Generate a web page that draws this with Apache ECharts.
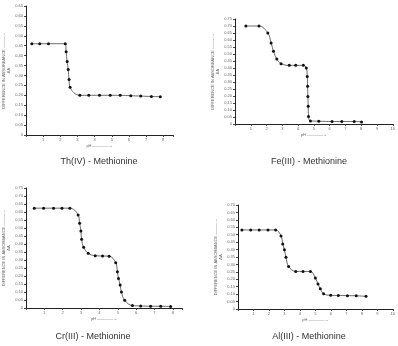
<!DOCTYPE html>
<html>
<head>
<meta charset="utf-8">
<script src="https://cdn.jsdelivr.net/npm/echarts@6/dist/echarts.min.js"></script>
<style>
  html, body { margin: 0; padding: 0; background: #fff; }
  #chart { width: 398px; height: 346px; }
</style>
</head>
<body>
<div id="chart"></div>
<script>
// pH values and difference in absorbance
const thPH = [0.34, 0.8, 1.31, 2.29, 2.34, 2.4, 2.46, 2.51, 2.57, 3.14, 3.66, 4.29, 4.91, 5.49, 6.11, 6.69, 7.31, 7.83];
const thDA = [0.46, 0.46, 0.46, 0.46, 0.42, 0.37, 0.33, 0.28, 0.24, 0.20, 0.20, 0.20, 0.20, 0.20, 0.198, 0.196, 0.194, 0.193];

const fePH = [0.69, 1.52, 2.08, 2.29, 2.44, 2.65, 2.92, 3.44, 3.85, 4.33, 4.52, 4.58, 4.6, 4.62, 4.64, 4.66, 4.78, 5.31, 6.15, 6.77, 7.56, 8.02];
const feDA = [0.70, 0.70, 0.65, 0.579, 0.519, 0.464, 0.431, 0.419, 0.419, 0.419, 0.40, 0.34, 0.269, 0.197, 0.126, 0.054, 0.022, 0.02, 0.018, 0.018, 0.018, 0.015];

const crPH = [0.45, 0.96, 1.5, 1.96, 2.39, 2.84, 2.92, 2.99, 3.03, 3.14, 3.39, 3.77, 4.17, 4.53, 4.89, 4.98, 5.04, 5.13, 5.2, 5.38, 5.8, 6.25, 6.79, 7.34, 7.88];
const crDA = [0.624, 0.624, 0.624, 0.624, 0.624, 0.582, 0.53, 0.482, 0.43, 0.379, 0.342, 0.327, 0.325, 0.324, 0.283, 0.226, 0.185, 0.143, 0.10, 0.048, 0.015, 0.013, 0.011, 0.011, 0.009];

const alPH = [0.25, 0.82, 1.37, 1.94, 2.43, 2.78, 2.89, 3.0, 3.1, 3.27, 3.73, 4.2, 4.68, 5.0, 5.17, 5.32, 5.53, 5.99, 6.48, 7.07, 7.64, 8.27];
const alDA = [0.532, 0.532, 0.532, 0.532, 0.532, 0.492, 0.438, 0.398, 0.349, 0.286, 0.253, 0.253, 0.253, 0.208, 0.168, 0.136, 0.103, 0.092, 0.091, 0.09, 0.089, 0.085];

const titles = ["Th(IV) - Methionine", "Fe(III) - Methionine", "Cr(III) - Methionine", "Al(III) - Methionine"];
const yMax = [0.65, 0.75, 0.75, 0.70];
const xMax = [8.57, 10, 8.5, 10];

const panels = [[thPH, thDA], [fePH, feDA], [crPH, crDA], [alPH, alDA]];

const chart = echarts.init(document.getElementById("chart"));

// grid boxes in px (left, top, width, height)
const boxes = [
  [23, 6, 150, 129],
  [235, 19, 160, 105],
  [25, 188, 157, 120],
  [238, 205, 157, 104]
];
const titlePos = [[94, 152], [304, 152], [88, 327], [304, 327]];

const tiny = { fontSize: 4, color: "#666", fontFamily: "Liberation Sans" };

chart.setOption({
  animation: false,
  title: titles.map((t, i) => ({
    text: t,
    left: titlePos[i][0],
    top: titlePos[i][1],
    textAlign: "center",
    textStyle: { fontSize: 9, fontWeight: "normal", color: "#333", fontFamily: "Liberation Sans" }
  })),
  grid: boxes.map(b => ({ left: b[0], top: b[1], width: b[2], height: b[3] })),
  xAxis: boxes.map((b, i) => ({
    type: "value",
    gridIndex: i,
    min: 0,
    max: xMax[i],
    interval: 1,
    name: "pH ————→",
    nameLocation: "middle",
    nameGap: 9,
    nameTextStyle: tiny,
    axisLine: { lineStyle: { color: "#222", width: 1 } },
    axisTick: { length: 2, lineStyle: { color: "#444" } },
    axisLabel: { ...tiny, margin: 3, formatter: v => (v === 0 || v > Math.floor(xMax[i]) ? "" : v) },
    splitLine: { show: false }
  })),
  yAxis: boxes.map((b, i) => ({
    type: "value",
    gridIndex: i,
    min: 0,
    max: yMax[i],
    interval: 0.05,
    name: "DIFFERENCE IN ABSORBANCE ———→\nΔA",
    nameLocation: "middle",
    nameRotate: 90,
    nameGap: 15,
    nameTextStyle: { ...tiny, lineHeight: 5 },
    axisLine: { show: true, lineStyle: { color: "#222", width: 1 } },
    axisTick: { show: true, length: 2, lineStyle: { color: "#444" } },
    axisLabel: { ...tiny, margin: 3, formatter: v => (v === 0 ? "0" : v.toFixed(2)) },
    splitLine: { show: false }
  })),
  series: panels.map((p, i) => ({
    type: "line",
    xAxisIndex: i,
    yAxisIndex: i,
    data: p[0].map((x, k) => [x, p[1][k]]),
    smooth: 0.4,
    symbol: "circle",
    symbolSize: 3,
    itemStyle: { color: "#111" },
    lineStyle: { color: "#444", width: 0.8 }
  }))
});
</script>
</body>
</html>
